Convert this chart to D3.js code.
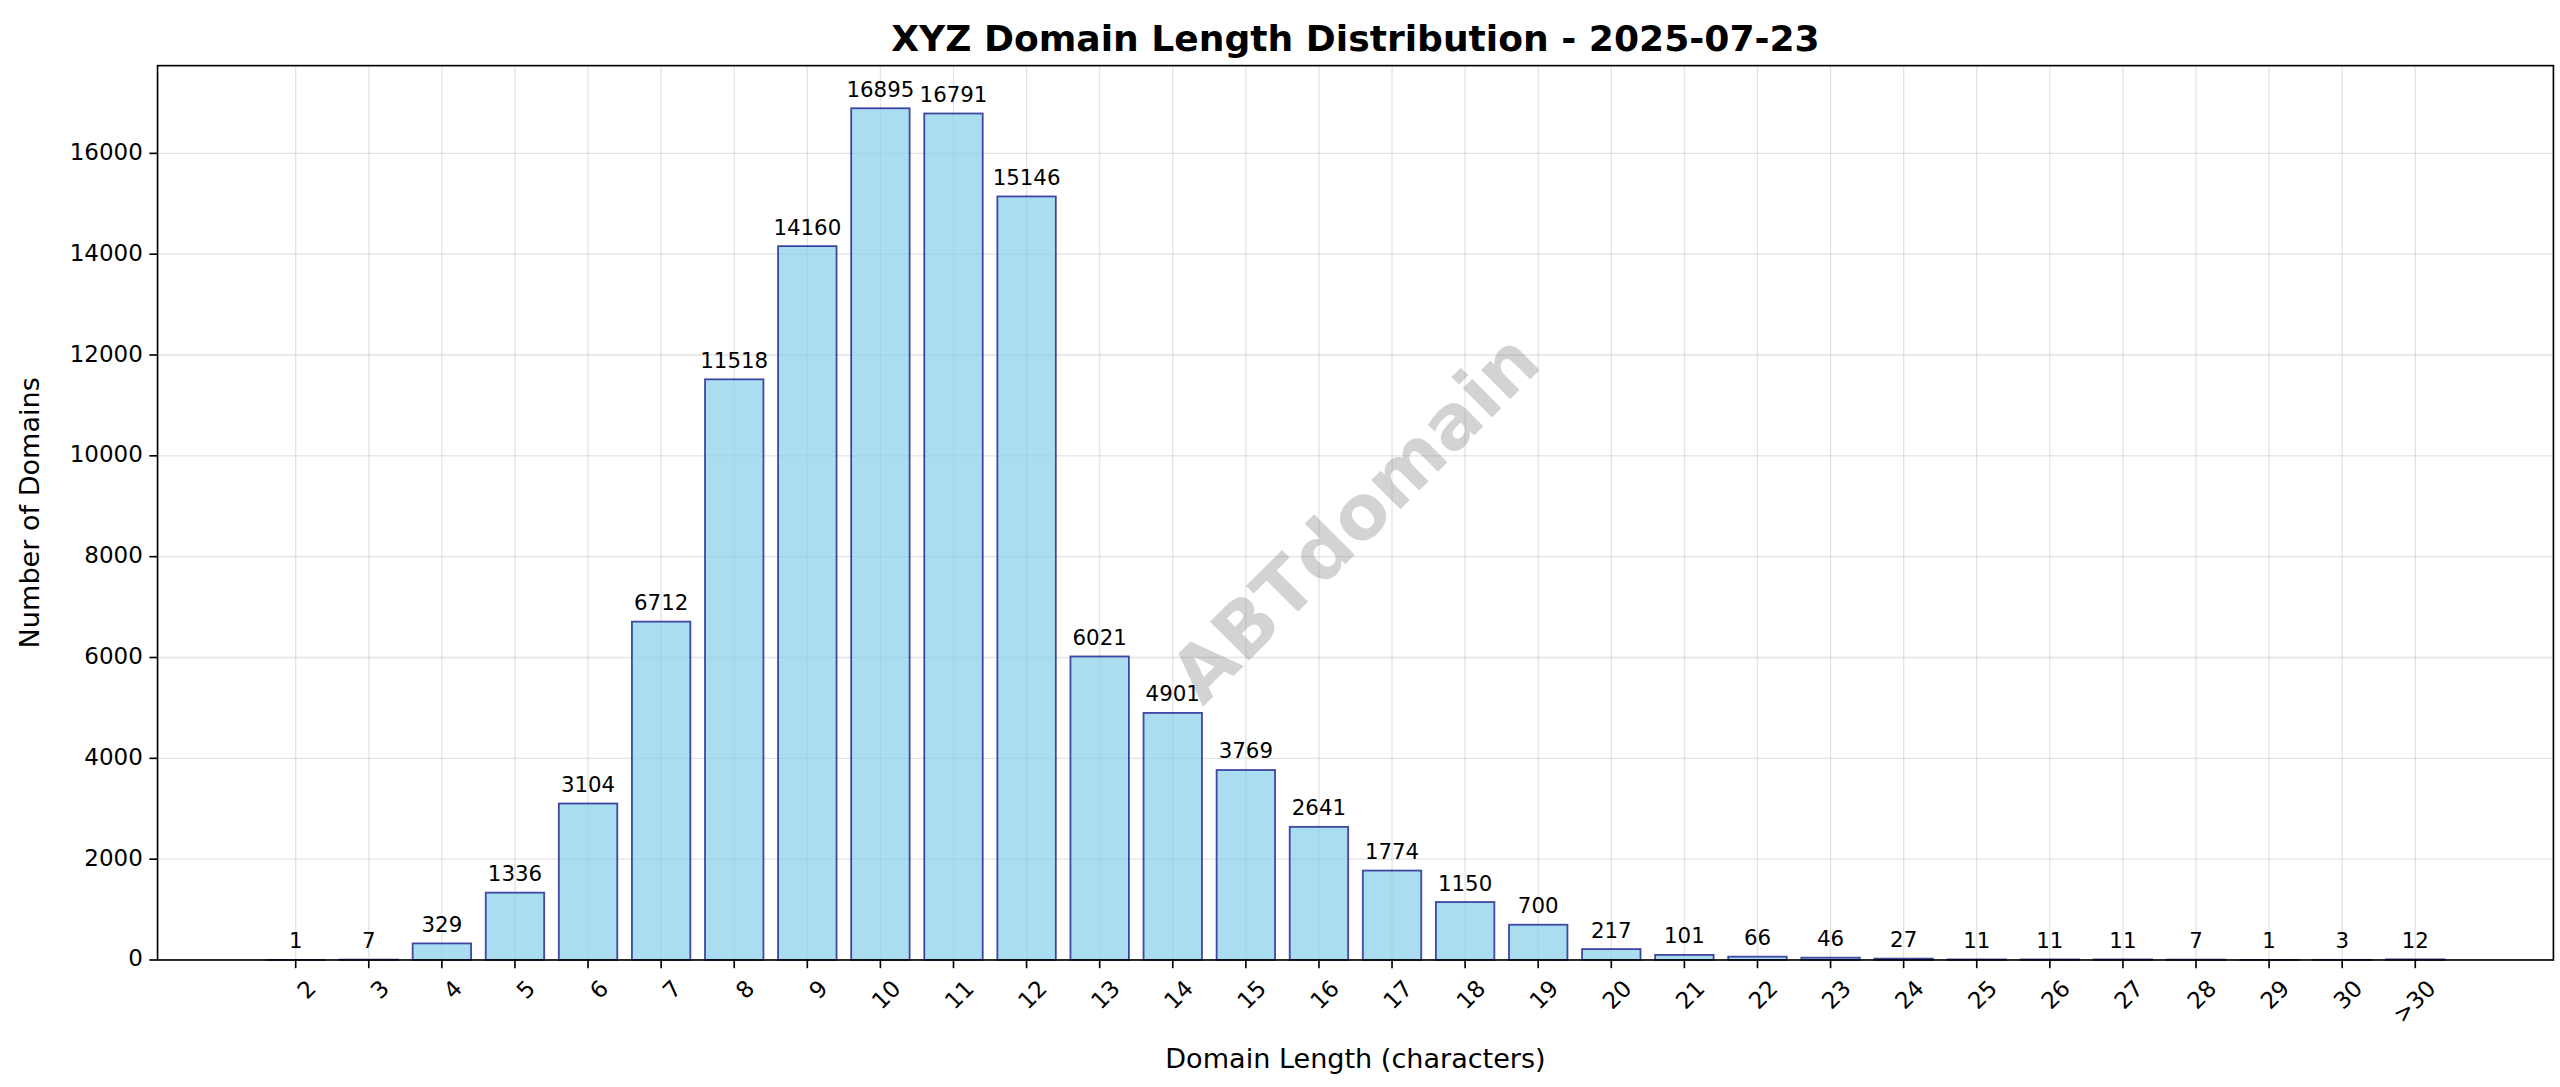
<!DOCTYPE html>
<html><head><meta charset="utf-8">
<script src="https://cdn.jsdelivr.net/npm/d3@7/dist/d3.min.js"></script>
<style>body{margin:0;background:#fff}svg{font-family:"DejaVu Sans",sans-serif;display:block}</style>
</head><body><svg id="c" width="2560" height="1087" viewBox="0 0 1560 662.4"></svg>
<script>
const categories=["2","3","4","5","6","7","8","9","10","11","12","13","14","15","16","17","18","19","20","21","22","23","24","25","26","27","28","29","30",">30"];
const counts=[1,7,329,1336,3104,6712,11518,14160,16895,16791,15146,6021,4901,3769,2641,1774,1150,700,217,101,66,46,27,11,11,11,7,1,3,12];
const yTicks=[0,2000,4000,6000,8000,10000,12000,14000,16000];

const svg=d3.select("#c");
const L=96,R=1556,T=40,B=585;
const x=d3.scaleLinear().domain([-1.89,categories.length-1+1.89]).range([L,R]);
const y=d3.scaleLinear().domain([0,17740]).range([B,T]);
const bw=x(0.8)-x(0);
const g=svg.append("g");
g.selectAll(".gy").data(yTicks).join("line").attr("x1",L).attr("x2",R).attr("y1",d=>y(d)).attr("y2",d=>y(d)).attr("stroke","#b0b0b0").attr("stroke-opacity",0.35).attr("stroke-width",0.8);
g.selectAll(".gx").data(categories).join("line").attr("x1",(d,i)=>x(i)).attr("x2",(d,i)=>x(i)).attr("y1",T).attr("y2",B).attr("stroke","#b0b0b0").attr("stroke-opacity",0.35).attr("stroke-width",0.8);
g.selectAll(".bar").data(counts).join("rect").attr("x",(d,i)=>x(i)-bw/2).attr("width",bw).attr("y",d=>y(d)).attr("height",d=>B-y(d))
 .attr("fill","#87CEEB").attr("fill-opacity",0.7).attr("stroke","#000080").attr("stroke-opacity",0.7).attr("stroke-width",1.1);
g.selectAll(".lab").data(counts).join("text").attr("x",(d,i)=>x(i)).attr("y",d=>y(d)-7).attr("text-anchor","middle").attr("font-size",13).text(d=>d);
svg.append("text").attr("transform","translate(828,318) rotate(-45)").attr("text-anchor","middle").attr("dominant-baseline","middle")
 .attr("font-size",46).attr("font-weight","bold").attr("fill","#808080").attr("fill-opacity",0.35).text("ABTdomain");
svg.append("rect").attr("x",L).attr("y",T).attr("width",R-L).attr("height",B-T).attr("fill","none").attr("stroke","#000").attr("stroke-width",1);
const ya=svg.append("g");
yTicks.forEach(t=>{ya.append("line").attr("x1",L-5).attr("x2",L).attr("y1",y(t)).attr("y2",y(t)).attr("stroke","#000").attr("stroke-width",1);
 ya.append("text").attr("x",L-9).attr("y",y(t)).attr("dominant-baseline","middle").attr("text-anchor","end").attr("font-size",14).text(t);});
categories.forEach((c,i)=>{svg.append("line").attr("x1",x(i)).attr("x2",x(i)).attr("y1",B).attr("y2",B+5).attr("stroke","#000").attr("stroke-width",1);
 svg.append("text").attr("transform",`translate(${x(i)+6},${B+11}) rotate(-45)`).attr("text-anchor","end").attr("dominant-baseline","hanging").attr("font-size",14).text(c);});
svg.append("text").attr("x",(L+R)/2).attr("y",651).attr("text-anchor","middle").attr("font-size",16.5).text("Domain Length (characters)");
svg.append("text").attr("transform",`translate(24,${(T+B)/2}) rotate(-90)`).attr("text-anchor","middle").attr("font-size",16.5).text("Number of Domains");
svg.append("text").attr("x",(L+R)/2).attr("y",31).attr("text-anchor","middle").attr("font-size",22).attr("font-weight","bold").text("XYZ Domain Length Distribution - 2025-07-23");
</script></body></html>
